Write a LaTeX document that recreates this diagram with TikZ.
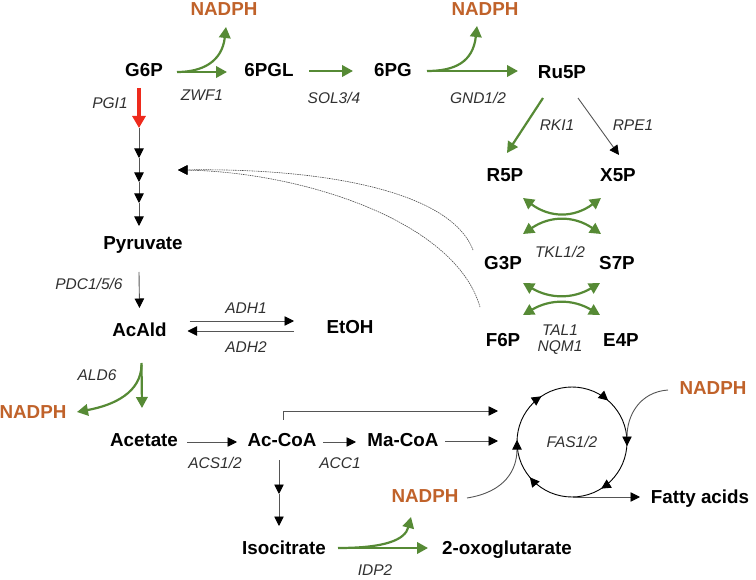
\documentclass[tikz,border=0pt]{standalone}
\usepackage{fontspec}
\setmainfont{Liberation Sans}
\usetikzlibrary{arrows.meta,decorations.markings,calc}
\definecolor{pgreen}{HTML}{568A35}
\definecolor{nadc}{HTML}{C0622A}
\definecolor{pred}{HTML}{EE2A1C}
\definecolor{enzc}{HTML}{303030}
\definecolor{lgray}{HTML}{555555}
\tikzset{
  met/.style={font=\bfseries\fontsize{18.8}{20}\selectfont, inner sep=0pt, text height=13.5pt, text depth=0pt},
  nad/.style={met, text=nadc},
  enz/.style={font=\itshape\fontsize{15.5}{17}\selectfont, inner sep=0pt, text height=11.1pt, text depth=0pt, text=enzc},
  gtip/.tip={Triangle[length=11pt,width=11.5pt]},
  btip/.tip={Triangle[length=9.5pt,width=9.5pt,color=black]},
  garrow/.style={draw=pgreen, line width=2.2pt, -gtip},
  gboth/.style={draw=pgreen, line width=2.2pt, gtip-gtip},
  barrow/.style={draw=lgray, line width=0.9pt, -btip},
  bline/.style={draw=lgray, line width=0.9pt},
  redarrow/.style={draw=pred, line width=3.5pt, -{Triangle[length=12pt,width=13pt]}},
  dotline/.style={draw=black!70, line width=0.6pt, dash pattern=on 1.5pt off 0.8pt, -btip},
}
\begin{document}
\begin{tikzpicture}[x=1pt,y=-1pt]
\useasboundingbox (0,0) rectangle (756,580);

% metabolites
\node[met] (g6p) at (144,70) {G6P};
\node[met] (pgl) at (269,70) {6PGL};
\node[met] (pg) at (393,70) {6PG};
\node[met] (ru5p) at (562,72) {Ru5P};
\node[met] (r5p) at (505,175) {R5P};
\node[met] (x5p) at (618,175) {X5P};
\node[met] (g3p) at (503,263) {G3P};
\node[met] (s7p) at (617,263) {S7P};
\node[met] (f6p) at (503,340) {F6P};
\node[met] (e4p) at (621,340) {E4P};
\node[met] (pyr) at (143,243) {Pyruvate};
\node[met] (acald) at (139.5,330) {AcAld};
\node[met] (etoh) at (350,327) {EtOH};
\node[met] (acetate) at (144,440) {Acetate};
\node[met] (accoa) at (282,440) {Ac-CoA};
\node[met] (macoa) at (403,440) {Ma-CoA};
\node[met] (iso) at (284,548) {Isocitrate};
\node[met] (oxo) at (507,548) {2-oxoglutarate};
\node[met] (fatty) at (700,497) {Fatty acids};
\node[nad] (nadph1) at (224,9) {NADPH};
\node[nad] (nadph2) at (485,9) {NADPH};
\node[nad] (nadph3) at (33,412) {NADPH};
\node[nad] (nadph4) at (425,496) {NADPH};
\node[nad] (nadph5) at (713,388) {NADPH};

% enzymes
\node[enz] (zwf) at (202,95) {ZWF1};
\node[enz] (sol) at (334,98) {SOL3/4};
\node[enz] (gnd) at (478,98) {GND1/2};
\node[enz] (pgi) at (110,103) {PGI1};
\node[enz] (rki) at (557,125) {RKI1};
\node[enz] (rpe) at (633,125) {RPE1};
\node[enz] (tkl) at (560,252) {TKL1/2};
\node[enz] (tal) at (560,330) {TAL1};
\node[enz] (nqm) at (560,346) {NQM1};
\node[enz] (pdc) at (89,284) {PDC1/5/6};
\node[enz] (adh1) at (246,308) {ADH1};
\node[enz] (adh2) at (246,347) {ADH2};
\node[enz] (ald) at (97,375) {ALD6};
\node[enz] (acs) at (215,463) {ACS1/2};
\node[enz] (acc) at (340,463) {ACC1};
\node[enz] (idp) at (375,570) {IDP2};

% FAS cycle
\node[circle, draw=black, line width=0.9pt, minimum size=110pt, inner sep=0pt,
  font=\itshape\fontsize{15.5}{17}\selectfont, text=enzc,
  postaction={decorate},
  decoration={markings,
    mark=at position 0.136 with {\arrowreversed{btip}},
    mark=at position 0.344 with {\arrowreversed{btip}},
    mark=at position 0.611 with {\arrowreversed{btip}},
    mark=at position 0.839 with {\arrowreversed{btip}}}] (fas) at (572,442) {FAS1/2};

% oxidative PPP
\draw[garrow] ($(g6p)+(33,2)$) -- ($(pgl)+(-42,2)$);
\draw[garrow] ($(g6p)+(33,2)$) .. controls (202,72) and (222,62) .. ($(nadph1)+(2,18)$);
\draw[garrow] ($(pgl)+(40,1)$) -- ($(pg)+(-40,1)$);
\draw[garrow] ($(pg)+(34,1)$) -- ($(ru5p)+(-44,-1)$);
\draw[garrow] ($(pg)+(34,1)$) .. controls (455,71) and (473,62) .. ($(nadph2)+(-8,17)$);
\draw[garrow] ($(ru5p)+(-19,26)$) -- ($(r5p)+(2,-22)$);
\draw[barrow] ($(ru5p)+(16,26)$) -- ($(x5p)+(1,-20)$);

% non-oxidative
\draw[gboth] ($(r5p)+(18,23)$) .. controls (550,218) and (574,218) .. ($(x5p)+(-17,23)$);
\draw[gboth] ($(g3p)+(20,-29)$) .. controls (550,215.5) and (574,215.5) .. ($(s7p)+(-16,-29)$);
\draw[gboth] ($(g3p)+(20,20)$) .. controls (550,299) and (573,299) .. ($(s7p)+(-17,20)$);
\draw[gboth] ($(f6p)+(20,-25)$) .. controls (550,299) and (573,299) .. ($(e4p)+(-21,-25)$);

% return to glycolysis
\coordinate (glyc) at (178,170);
\draw[dotline] ($(g3p)+(-30,-13)$) .. controls (450,190) and (320,168) .. (glyc);
\draw[dotline] ($(f6p)+(-23,-33)$) .. controls (455,220) and (300,172) .. (glyc);

% glycolysis
\coordinate (r1) at (139,128);
\coordinate (ch1) at (139,158);
\coordinate (ch2) at (139,182);
\coordinate (ch3) at (139,203);
\draw[barrow] (r1) -- (ch1);
\draw[barrow] (ch1) -- (ch2);
\draw[barrow] (ch2) -- (ch3);
\draw[barrow] (ch3) -- ($(pyr)+(-4,-17)$);
\draw[redarrow] ($(g6p)+(-5,18)$) -- (r1);
\draw[barrow] ($(pyr)+(-4,29)$) -- ($(acald)+(0,-22)$);
\draw[barrow] ($(acald)+(50,-9)$) -- ($(etoh)+(-56,-6)$);
\draw[barrow] ($(etoh)+(-56,4)$) -- ($(acald)+(48,1)$);
\draw[garrow] ($(acald)+(2,33)$) -- ($(acetate)+(-2,-32)$);
\draw[garrow] ($(acald)+(2,35)$) .. controls (141,392) and (115,405) .. ($(nadph3)+(44,0)$);
\draw[barrow] ($(acetate)+(43,2)$) -- ($(accoa)+(-45,2)$);
\draw[barrow] ($(accoa)+(41,2)$) -- ($(macoa)+(-47,2)$);
\draw[barrow] ($(macoa)+(42,1)$) -- ($(fas)+(-74,-1)$);
\draw[barrow] ($(accoa)+(1,-20)$) -- ($(accoa)+(1,-29)$) -- ($(fas)+(-74,-31)$);
\coordinate (ac1) at (279,494);
\draw[barrow] ($(accoa)+(-3,20)$) -- (ac1);
\draw[barrow] (ac1) -- ($(iso)+(-5,-22)$);
\draw[garrow] ($(iso)+(54,0)$) -- ($(oxo)+(-79,0)$);
\draw[garrow] ($(iso)+(54,0)$) .. controls (385,548) and (405,540) .. ($(nadph4)+(-14,21)$);

% NADPH into FAS, product
\draw[barrow] ($(nadph4)+(42,2)$) .. controls (505,492) and (517,470) .. ($(fas)+(-55,-2)$);
\draw[barrow] ($(nadph5)+(-45,2)$) .. controls (640,392) and (627,415) .. ($(fas)+(55,4)$);
\draw[barrow] ($(fas)+(1,55)$) -- ($(fatty)+(-60,0)$);
\end{tikzpicture}
\end{document}
